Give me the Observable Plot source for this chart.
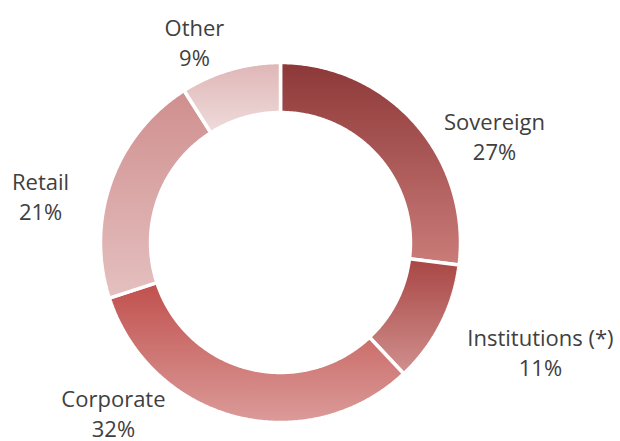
<!DOCTYPE html>
<html><head><meta charset="utf-8">
<script src="https://cdn.jsdelivr.net/npm/d3@7"></script>
<script src="https://cdn.jsdelivr.net/npm/@observablehq/plot@0.6"></script>
<style>body{margin:0;background:#fff}</style>
</head><body><div id="chart"></div>
<script>
const categories = ["Sovereign", "Institutions (*)", "Corporate", "Retail", "Other"];
const shares = [27, 11, 32, 21, 9];
const percentLabels = ["27%", "11%", "32%", "21%", "9%"];

// styles
const gradientTop = ["#8d3838", "#a84644", "#c0504d", "#cf8f8e", "#dfb6b6"];
const gradientBottom = ["#ca7c79", "#d0908e", "#db9b99", "#e5c0c0", "#efdbdb"];
// label centres in chart units (outer radius = 1)
const labelX = [1.189, 1.444, -0.928, -1.333, -0.478];
const labelY = [0.593, -0.607, -0.942, 0.264, 1.119];

const innerRatio = 0.722;
const arcs = d3.pie().sort(null).value(d => d)(shares);

function slicePoints(i) {
  const {startAngle: a0, endAngle: a1} = arcs[i];
  const n = Math.max(8, Math.ceil((a1 - a0) / 0.008));
  const pts = [];
  for (let k = 0; k <= n; k++) {
    const a = a0 + (a1 - a0) * k / n;
    pts.push({x: Math.sin(a), y: Math.cos(a)});
  }
  for (let k = n; k >= 0; k--) {
    const a = a0 + (a1 - a0) * k / n;
    pts.push({x: innerRatio * Math.sin(a), y: innerRatio * Math.cos(a)});
  }
  return pts;
}

const defsMark = () => {
  const defs = d3.create("svg:defs");
  categories.forEach((c, i) => {
    const g = defs.append("linearGradient")
      .attr("id", "grad" + i).attr("x1", 0).attr("y1", 0).attr("x2", 0).attr("y2", 1);
    g.append("stop").attr("offset", "0%").attr("stop-color", gradientTop[i]);
    g.append("stop").attr("offset", "100%").attr("stop-color", gradientBottom[i]);
  });
  return defs.node();
};

const labels = categories.map((c, i) => ({text: c + "\n" + percentLabels[i], x: labelX[i], y: labelY[i]}));

const chart = Plot.plot({
  width: 620,
  height: 441,
  margin: 0,
  x: {domain: [-1, 1], range: [100, 460], axis: null},
  y: {domain: [-1, 1], range: [422, 62], axis: null},
  style: {background: "white"},
  marks: [
    defsMark,
    ...categories.map((c, i) => Plot.line(slicePoints(i), {
      x: "x", y: "y", fill: `url(#grad${i})`, stroke: "white", strokeWidth: 3.5,
      curve: "linear-closed", strokeLinejoin: "miter"
    })),
    Plot.text(labels, {
      x: "x", y: "y", text: "text", textAnchor: "middle", lineAnchor: "middle",
      lineHeight: 30 / 22, fontSize: 22, fill: "#404040", fontFamily: "Open Sans"
    })
  ]
});
document.getElementById("chart").appendChild(chart);
</script>
</body></html>
